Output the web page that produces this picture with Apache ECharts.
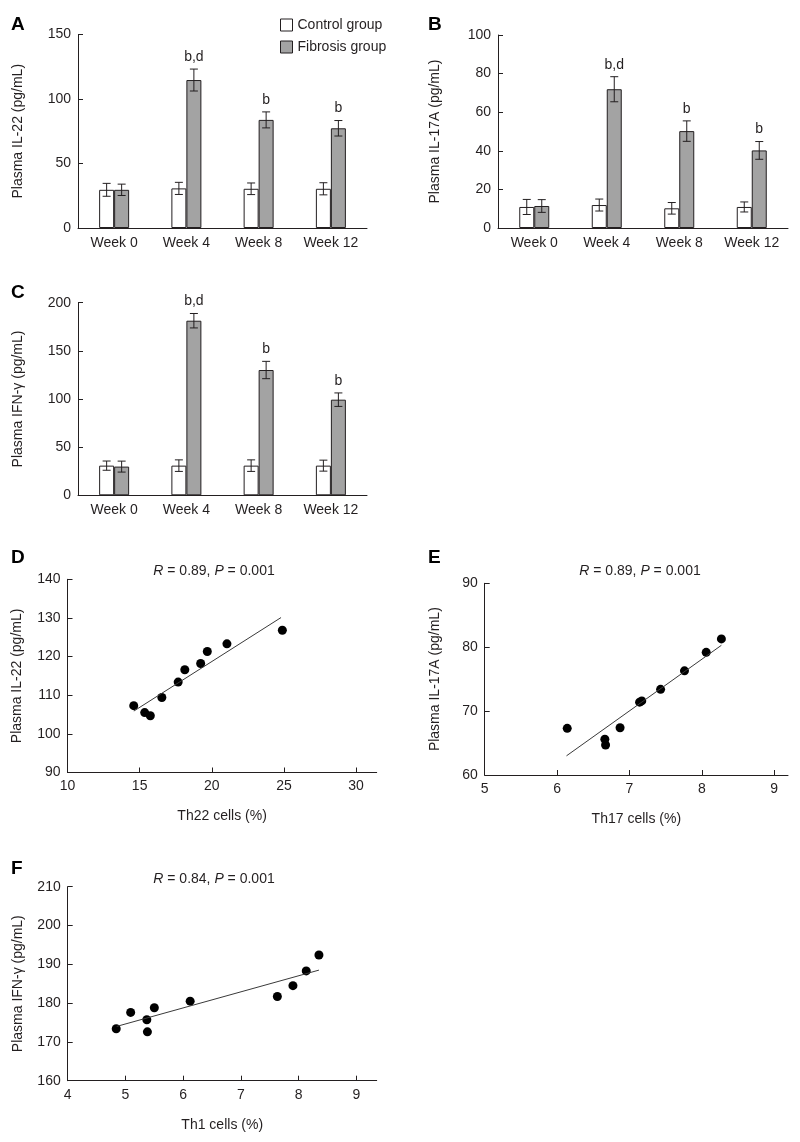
<!DOCTYPE html>
<html>
<head>
<meta charset="utf-8">
<script src="https://cdn.jsdelivr.net/npm/echarts@6/dist/echarts.min.js"></script>
<style>
  html, body { margin: 0; padding: 0; background: #fff; }
  #main { width: 800px; height: 1142px; }
</style>
</head>
<body>
<div id="main"></div>
<script>
// bar panels A-C
const weeks = ['Week 0', 'Week 4', 'Week 8', 'Week 12'];
const sigLabels = ['', 'b,d', 'b', 'b'];

const il22Control = [29.6, 30.7, 30.4, 30.4];
const il22ControlErr = [5, 4.7, 4.5, 4.7];
const il22Fibrosis = [29.6, 114.7, 83.8, 77.3];
const il22FibrosisErr = [4.4, 8.5, 6.2, 6];

const il17Control = [10.9, 11.9, 10.2, 10.9];
const il17ControlErr = [3.9, 3.1, 3, 2.6];
const il17Fibrosis = [11.4, 71.9, 50.2, 40.2];
const il17FibrosisErr = [3.3, 6.5, 5.3, 4.6];

const ifnControl = [30.8, 30.8, 30.8, 30.8];
const ifnControlErr = [4.8, 6, 6, 5.7];
const ifnFibrosis = [29.8, 181.3, 130.1, 99.3];
const ifnFibrosisErr = [5.7, 7.5, 9, 7];

// scatter panels D-F
const th22 = [14.59, 15.35, 15.74, 16.54, 17.67, 18.13, 19.23, 19.69, 21.05, 24.89];
const il22Plasma = [107.3, 105.5, 104.7, 109.4, 113.4, 116.6, 118.2, 121.3, 123.3, 126.8];
const il22Fit = [[14.6, 105.9], [24.8, 130.1]];

const th17 = [6.14, 6.66, 6.67, 6.87, 7.14, 7.17, 7.43, 7.76, 8.06, 8.27];
const il17Plasma = [67.3, 65.6, 64.7, 67.4, 71.4, 71.6, 73.4, 76.3, 79.2, 81.3];
const il17Fit = [[6.13, 63.0], [8.27, 80.3]];

const th1 = [4.84, 5.09, 5.37, 5.38, 5.50, 6.12, 7.63, 7.90, 8.13, 8.35];
const ifnPlasma = [173.4, 177.6, 175.7, 172.6, 178.8, 180.5, 181.7, 184.5, 188.3, 192.4];
const ifnFit = [[4.85, 174.0], [8.35, 188.5]];

const ink = '#231f20';
const font = '"Liberation Sans", Arial, sans-serif';
const BAR_W = 15;

const labelStyle = { color: ink, fontSize: 14, fontFamily: font };
const lineStyle = { color: ink, width: 1 };

function catAxis(gi) {
  return {
    type: 'category', gridIndex: gi, data: weeks,
    axisLine: { lineStyle: lineStyle },
    axisTick: { show: false },
    axisLabel: Object.assign({ margin: 8 }, labelStyle)
  };
}

function valAxis(gi, min, max, step, name, gap, ticks) {
  const ax = {
    type: 'value', gridIndex: gi, min: min, max: max, interval: step,
    name: name, nameLocation: 'middle', nameGap: gap,
    nameTextStyle: labelStyle,
    axisLine: { show: true, lineStyle: lineStyle },
    axisTick: { show: true, inside: true, length: 5, lineStyle: lineStyle },
    axisLabel: Object.assign({ margin: 7 }, labelStyle),
    splitLine: { show: false }
  };
  if (ticks) {
    ax.axisTick.customValues = ticks;
    ax.axisLabel.customValues = ticks;
  }
  return ax;
}

function errorRenderer(offset, labels) {
  return function (params, api) {
    const i = api.value(0), v = api.value(1), e = api.value(2);
    const top = api.coord([i, v + e]);
    const bot = api.coord([i, v - e]);
    const x = top[0] + offset;
    const st = { stroke: ink, lineWidth: 1 };
    const children = [
      { type: 'line', shape: { x1: x, y1: top[1], x2: x, y2: bot[1] }, style: st },
      { type: 'line', shape: { x1: x - 4, y1: top[1], x2: x + 4, y2: top[1] }, style: st },
      { type: 'line', shape: { x1: x - 4, y1: bot[1], x2: x + 4, y2: bot[1] }, style: st }
    ];
    if (labels && labels[params.dataIndex]) {
      children.push({
        type: 'text',
        style: {
          text: labels[params.dataIndex], x: x, y: top[1] - 5,
          align: 'center', verticalAlign: 'bottom',
          font: '14px ' + font, fill: ink
        }
      });
    }
    return { type: 'group', children: children };
  };
}

function barSeries(gi, ctrl, ctrlErr, fib, fibErr) {
  return [
    {
      name: 'Control group', type: 'bar', xAxisIndex: gi, yAxisIndex: gi,
      data: ctrl, barWidth: BAR_W, barGap: '0%',
      itemStyle: { color: '#ffffff', borderColor: ink, borderWidth: 1 }
    },
    {
      name: 'Fibrosis group', type: 'bar', xAxisIndex: gi, yAxisIndex: gi,
      data: fib, barWidth: BAR_W, barGap: '0%',
      itemStyle: { color: '#a3a3a3', borderColor: ink, borderWidth: 1 }
    },
    {
      name: 'Control group', type: 'custom', xAxisIndex: gi, yAxisIndex: gi, z: 3,
      renderItem: errorRenderer(-BAR_W / 2, null),
      data: ctrl.map((v, i) => [i, v, ctrlErr[i]])
    },
    {
      name: 'Fibrosis group', type: 'custom', xAxisIndex: gi, yAxisIndex: gi, z: 3,
      renderItem: errorRenderer(BAR_W / 2, sigLabels),
      data: fib.map((v, i) => [i, v, fibErr[i]])
    }
  ];
}

function scatterSeries(gi, xs, ys, fit) {
  return [
    {
      type: 'line', xAxisIndex: gi, yAxisIndex: gi, data: fit,
      symbol: 'none', lineStyle: { color: '#3a3a3a', width: 1 }
    },
    {
      type: 'scatter', xAxisIndex: gi, yAxisIndex: gi, symbolSize: 9,
      itemStyle: { color: '#000', opacity: 1 },
      data: xs.map((x, i) => [x, ys[i]])
    }
  ];
}

function panelLetter(t, x, y) {
  return {
    type: 'text', x: x, y: y,
    style: { text: t, font: 'bold 19px ' + font, fill: '#000', verticalAlign: 'middle' }
  };
}

function statText(t, x, y) {
  return {
    type: 'text', x: x, y: y,
    style: {
      text: t, align: 'center', verticalAlign: 'middle',
      font: '14px ' + font, fill: ink,
      rich: { i: { fontStyle: 'italic', fontSize: 14, fontFamily: font, fill: ink } }
    }
  };
}

const option = {
  animation: false,
  backgroundColor: '#fff',
  legend: {
    orient: 'vertical', left: 275, top: 13, itemWidth: 12, itemHeight: 12, itemGap: 8,
    textStyle: labelStyle,
    data: [
      { name: 'Control group', icon: 'rect', itemStyle: { color: '#fff', borderColor: ink, borderWidth: 1 } },
      { name: 'Fibrosis group', icon: 'rect', itemStyle: { color: '#a3a3a3', borderColor: ink, borderWidth: 1 } }
    ]
  },
  grid: [
    { left: 78, top: 34.5, width: 289, height: 193.5 },
    { left: 498, top: 35, width: 290, height: 193 },
    { left: 78, top: 302.7, width: 289, height: 192.6 },
    { left: 67.5, top: 579.3, width: 309.2, height: 193.2 },
    { left: 484.7, top: 583.3, width: 303.3, height: 191.7 },
    { left: 67.7, top: 886.7, width: 309, height: 194 }
  ],
  xAxis: [
    catAxis(0), catAxis(1), catAxis(2),
    valAxis(3, 10, 31.43, 5, 'Th22 cells (%)', 37, [10, 15, 20, 25, 30]),
    valAxis(4, 5, 9.19, 1, 'Th17 cells (%)', 37, [5, 6, 7, 8, 9]),
    valAxis(5, 4, 9.35, 1, 'Th1 cells (%)', 37, [4, 5, 6, 7, 8, 9])
  ],
  yAxis: [
    valAxis(0, 0, 150, 50, 'Plasma IL-22 (pg/mL)', 53),
    valAxis(1, 0, 100, 20, 'Plasma IL-17A (pg/mL)', 56),
    valAxis(2, 0, 200, 50, 'Plasma IFN-\u03b3 (pg/mL)', 53),
    valAxis(3, 90, 140, 10, 'Plasma IL-22 (pg/mL)', 43),
    valAxis(4, 60, 90, 10, 'Plasma IL-17A (pg/mL)', 43),
    valAxis(5, 160, 210, 10, 'Plasma IFN-\u03b3 (pg/mL)', 43)
  ],
  graphic: [
    panelLetter('A', 11, 25),
    panelLetter('B', 428, 25),
    panelLetter('C', 11, 293),
    panelLetter('D', 11, 558),
    panelLetter('E', 428, 558),
    panelLetter('F', 11, 869),
    statText('{i|R} = 0.89, {i|P} = 0.001', 214, 571),
    statText('{i|R} = 0.89, {i|P} = 0.001', 640, 571),
    statText('{i|R} = 0.84, {i|P} = 0.001', 214, 879)
  ],
  series: [].concat(
    barSeries(0, il22Control, il22ControlErr, il22Fibrosis, il22FibrosisErr),
    barSeries(1, il17Control, il17ControlErr, il17Fibrosis, il17FibrosisErr),
    barSeries(2, ifnControl, ifnControlErr, ifnFibrosis, ifnFibrosisErr),
    scatterSeries(3, th22, il22Plasma, il22Fit),
    scatterSeries(4, th17, il17Plasma, il17Fit),
    scatterSeries(5, th1, ifnPlasma, ifnFit)
  )
};

const myChart = echarts.init(document.getElementById('main'));
myChart.setOption(option);
</script>
</body>
</html>
